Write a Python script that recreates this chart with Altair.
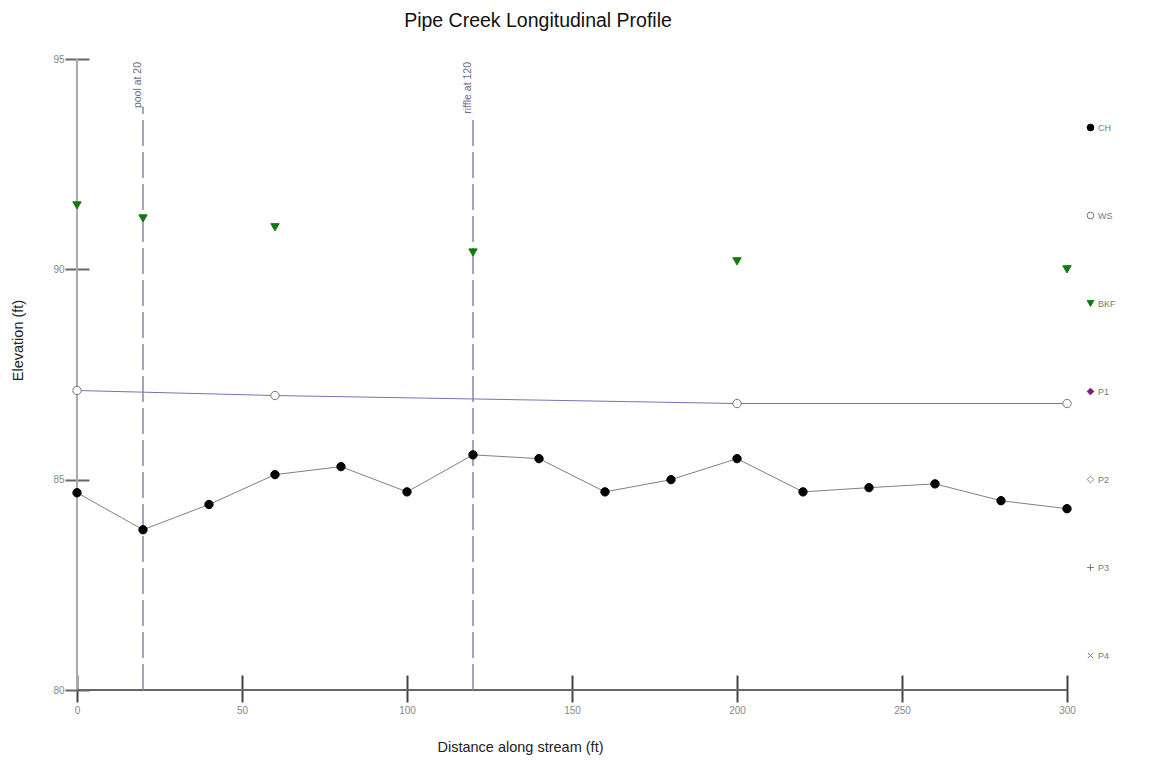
import altair as alt
import pandas as pd

FONT = "Liberation Sans"

# ---- data ----
ch_x = [0, 20, 40, 60, 80, 100, 120, 140, 160, 180, 200, 220, 240, 260, 280, 300]
ch_y = [84.69, 83.81, 84.41, 85.12, 85.31, 84.71, 85.59, 85.50, 84.71, 85.00,
        85.50, 84.71, 84.81, 84.90, 84.50, 84.31]
ws_x = [0, 60, 200, 300]
ws_y = [87.12, 87.00, 86.81, 86.81]
bkf_x = [0, 20, 60, 120, 200, 300]
bkf_y = [91.52, 91.21, 91.00, 90.40, 90.19, 90.00]

series_names = ["CH", "WS", "BKF", "P1", "P2", "P3", "P4"]
series_shapes = ["circle", "circle", "triangle-down", "diamond", "diamond",
                 "M-1,0H1M0,-1V1", "M-0.8,-0.8L0.8,0.8M-0.8,0.8L0.8,-0.8"]
series_fill = ["#000000", "#ffffff", "#137a13", "#7a1a7a", "#ffffff", "#ffffff", "#ffffff"]
series_stroke = ["#000000", "#777777", "#137a13", "#7a1a7a", "#888888", "#777777", "#777777"]

marker_x = [20, 120]
marker_top = [93.86, 93.70]
marker_labels = ["pool at 20", "riffle at 120"]
label_y = [94.93, 94.93]

x_ticks = [0, 50, 100, 150, 200, 250, 300]
y_ticks = [80, 85, 90, 95]
x_domain = [0, 300]
y_domain = [80, 95]

# ---- tables ----
ch_df = pd.DataFrame({"x": ch_x, "y": ch_y, "series": "CH"})
ws_df = pd.DataFrame({"x": ws_x, "y": ws_y, "series": "WS"})
bkf_df = pd.DataFrame({"x": bkf_x, "y": bkf_y, "series": "BKF"})
pts_df = pd.concat([ch_df, ws_df, bkf_df], ignore_index=True)
marker_df = pd.DataFrame({"x": marker_x, "y": [y_domain[0]] * 2, "y2": marker_top,
                          "label": marker_labels, "ly": label_y})
yline_df = pd.DataFrame({"x": [x_domain[0]], "y": [y_domain[0]], "y2": [y_domain[1]]})
xline_df = pd.DataFrame({"x": [x_domain[0]], "x2": [x_domain[1]], "y": [y_domain[0]]})

xs = alt.Scale(domain=x_domain, nice=False, zero=False)
ys = alt.Scale(domain=y_domain, nice=False, zero=False)

xaxis = alt.Axis(values=x_ticks, offset=-15, tickSize=27, tickWidth=2, tickColor="#444444",
                 domain=False, grid=False, labelPadding=3, labelFontSize=10,
                 labelColor="#888888", labelFont=FONT, labelFlush=False, labelOverlap=False,
                 title="Distance along stream (ft)", titleFont=FONT, titleFontSize=14.5,
                 titleFontWeight="normal", titleColor="#222222", titleX=443, titleY=72,
                 titleAlign="center", titleBaseline="middle")
yaxis = alt.Axis(values=y_ticks, offset=-12, tickSize=24, tickWidth=2, tickColor="#666666",
                 domain=False, grid=False, labelPadding=1, labelFontSize=10,
                 labelColor="#888888", labelFont=FONT, labelFlush=False, labelOverlap=False,
                 title="Elevation (ft)", titleFont=FONT, titleFontSize=14.5,
                 titleFontWeight="normal", titleColor="#222222", titleX=-71, titleY=281,
                 titleAlign="center", titleBaseline="middle", titleAngle=270)

X = alt.X("x:Q", scale=xs, axis=xaxis)
Y = alt.Y("y:Q", scale=ys, axis=yaxis)

yline = alt.Chart(yline_df).mark_rule(color="#aaaaaa", strokeWidth=2).encode(x=X, y=Y, y2="y2:Q")
xline = alt.Chart(xline_df).mark_rule(color="#666666", strokeWidth=2).encode(x=X, x2="x2:Q", y=Y)

markers = alt.Chart(marker_df).mark_rule(color="#8888a8", strokeWidth=1.5,
                                         strokeDash=[26, 6]).encode(x=X, y=Y, y2="y2:Q")
marker_text = alt.Chart(marker_df).mark_text(angle=270, align="right", baseline="bottom",
                                             fontSize=10.5, font=FONT, color="#6a6a90").encode(
    x=X, y=alt.Y("ly:Q", scale=ys, axis=yaxis), text="label:N")

ch_line = alt.Chart(ch_df).mark_line(color="#808080", strokeWidth=1).encode(x=X, y=Y)
ws_line = alt.Chart(ws_df).mark_line(color="#7474b4", strokeWidth=1).encode(x=X, y=Y)

leg = alt.Legend(title=None, orient="none", legendX=1009, legendY=64, direction="vertical",
                 rowPadding=77, labelFontSize=9, labelColor="#777777", labelFont=FONT,
                 symbolSize=45, symbolStrokeWidth=1, labelOffset=3, padding=0)

points = alt.Chart(pts_df).mark_point(filled=False, size=70, strokeWidth=1, opacity=1).encode(
    x=X, y=Y,
    shape=alt.Shape("series:N", scale=alt.Scale(domain=series_names, range=series_shapes), legend=leg),
    fill=alt.Fill("series:N", scale=alt.Scale(domain=series_names, range=series_fill), legend=leg),
    stroke=alt.Stroke("series:N", scale=alt.Scale(domain=series_names, range=series_stroke), legend=leg),
)

chart = alt.layer(yline, xline, markers, marker_text, ch_line, ws_line, points).properties(
    width=990, height=631,
    autosize="none",
    padding={"left": 69, "top": 51, "right": 68, "bottom": 70},
    title=alt.Title("Pipe Creek Longitudinal Profile", font=FONT, fontSize=19.5,
                    fontWeight="normal", color="#111111", anchor="middle", dx=-34, offset=23),
).configure(background="white").configure_view(stroke=None)

chart.save("out.html", embed_options={"renderer": "svg", "actions": False})
